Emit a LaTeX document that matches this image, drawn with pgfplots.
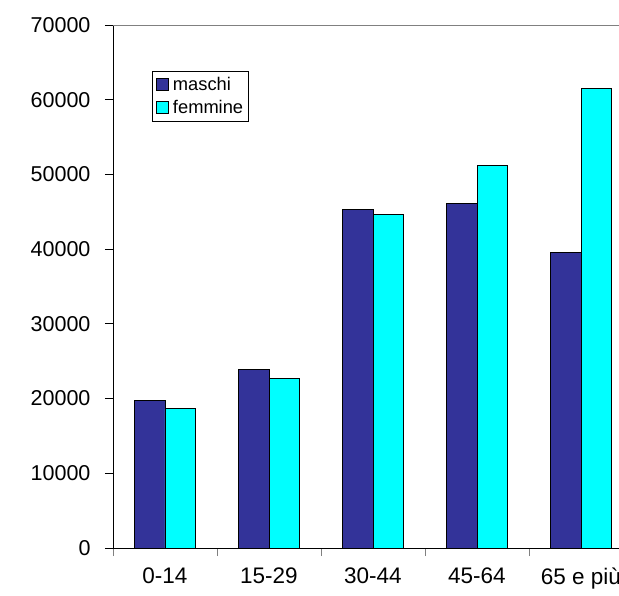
\documentclass[border=0pt]{standalone}
\usepackage{pgfplots}
\pgfplotsset{compat=1.18}
\usepackage{pgfplotstable}
\usepackage{fontspec}
\setmainfont{Liberation Sans}

\definecolor{maschi}{HTML}{333399}
\definecolor{femmine}{HTML}{00FFFF}

% popolazione per classe di età
\pgfplotstableread{
x  maschi  femmine
0  19700   18650
1  23900   22700
2  45300   44650
3  46100   51250
4  39550   61500
}\popolazione

\begin{document}
\begin{tikzpicture}
\useasboundingbox (0pt,0pt) rectangle (619pt,595pt);
\clip (0pt,0pt) rectangle (619pt,595pt);
\begin{axis}[
  at={(113pt,47pt)}, anchor=south west,
  scale only axis, width=520pt, height=523pt,
  xmin=-0.5, xmax=4.5, ymin=0, ymax=70000,
  axis x line*=bottom, axis y line*=left,
  axis line style={-, black, line width=0.8pt},
  ybar=0pt, bar width=30.5pt,
  tick align=outside, major tick length=8pt,
  ytick={0,10000,...,70000},
  scaled y ticks=false,
  /pgf/number format/assume math mode=true,
  /pgf/number format/set thousands separator={},
  /pgf/number format/fixed,
  yticklabel style={font=\fontsize{21.5}{24}\selectfont, xshift=-11pt},
  y tick style={black, line width=0.8pt},
  xtick={-0.5,0.5,1.5,2.5,3.5},
  xticklabels={0-14,15-29,30-44,45-64,65 e più},
  xticklabel style={font=\fontsize{22.5}{25}\selectfont, xshift=52pt, yshift=-8pt},
  x tick style={gray, line width=0.8pt},
  extra x ticks={4.5}, extra x tick labels={},
  legend style={at={(0.075,0.912)}, anchor=north west,
    draw=black, line width=0.6pt, font=\fontsize{18.3}{22}\selectfont,
    inner xsep=4pt, inner ysep=4pt, row sep=4pt,
    nodes={inner xsep=1pt},
    /tikz/every odd column/.append style={column sep=3pt}},
  legend cell align=left,
  legend image code/.code={\draw[#1, draw=black, line width=0.7pt] (0pt,-6pt) rectangle (12pt,6pt);},
]
\addplot[fill=maschi, draw=black, line width=0.8pt] table[x=x, y=maschi] {\popolazione};
\addplot[fill=femmine, draw=black, line width=0.8pt] table[x=x, y=femmine] {\popolazione};
\legend{maschi, femmine}
\draw[gray, line width=0.8pt] (rel axis cs:0,1) -- (rel axis cs:1,1);
\end{axis}
\end{tikzpicture}
\end{document}
